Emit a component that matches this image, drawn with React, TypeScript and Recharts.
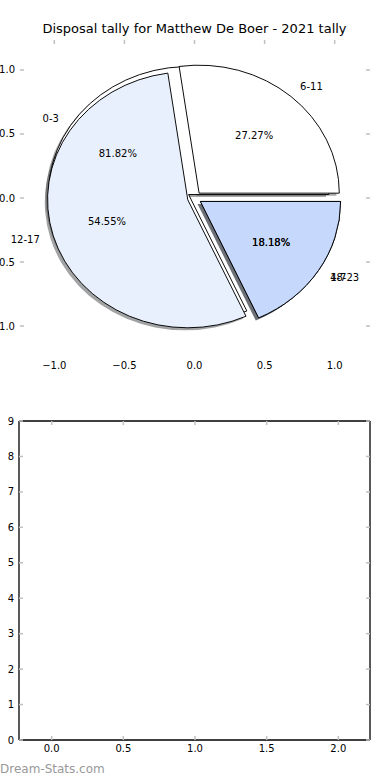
import { PieChart, Pie, Cell, ScatterChart, Scatter, XAxis, YAxis } from 'recharts'

const TITLE = 'Disposal tally for Matthew De Boer - 2021 tally'

// the source drew two pies on top of each other
const groupsA = ['0-3', '4-7']
const countsA = [9, 2]
const groupsB = ['6-11', '12-17', '18-23']
const countsB = [3, 6, 2]
const coloursA = ['#ffffff', '#c6d9fd']
const coloursB = ['#ffffff', '#e9f0fd', '#c6d9fd']

const pieTicks = [-1, -0.5, 0, 0.5, 1]
const emptyXTicks = [0, 0.5, 1, 1.5, 2]
const emptyYTicks = [0, 1, 2, 3, 4, 5, 6, 7, 8, 9]

const FONT = '"DejaVu Sans", sans-serif'
const CX = 194.5
const CY = 198
const RX = 140.2
const RY = 128
const EXPLODE = 0.05
const TICK = '#c0c0c0'
const RAD = Math.PI / 180

const dataA = groupsA.map((g, i) => ({ label: g, count: countsA[i] }))
const dataB = groupsB.map((g, i) => ({ label: g, count: countsB[i] }))

const fmt = (v: number) => v.toFixed(1).replace('-', '\u2212')

function midAngles(vals: number[]) {
  const total = vals.reduce((a, b) => a + b, 0)
  let acc = 0
  return vals.map((v) => {
    const m = ((acc + v / 2) / total) * 360
    acc += v
    return m
  })
}
const midA = midAngles(countsA)
const midB = midAngles(countsB)

// matplotlib explode, in px before the vertical squash
function shift(angle: number, extraX = 0, extraY = 0) {
  const dx = EXPLODE * RX * Math.cos(angle * RAD) + extraX
  const dy = -EXPLODE * RX * Math.sin(angle * RAD) + extraY
  return { transform: `translate(${dx}px, ${dy}px)` }
}

function shade(hex: string) {
  const n = parseInt(hex.slice(1), 16)
  const r = Math.round(((n >> 16) & 255) * 0.3)
  const g = Math.round(((n >> 8) & 255) * 0.3)
  const b = Math.round((n & 255) * 0.3)
  return `rgb(${r},${g},${b})`
}

const nameLabel = (p: any) => {
  const m = p.midAngle * RAD
  const r = 1.1 + EXPLODE
  const x = (p.cx ?? CX) + r * RX * Math.cos(m)
  const y = (p.cy ?? CY) - r * RY * Math.sin(m)
  return (
    <text x={x} y={y} textAnchor={Math.cos(m) > 0 ? 'start' : 'end'} dominantBaseline="central"
      fontSize={10} fontFamily={FONT} fill="#000">
      {p.name}
    </text>
  )
}

const pctLabel = (p: any) => {
  const m = p.midAngle * RAD
  const r = 0.6 + EXPLODE
  const x = (p.cx ?? CX) + r * RX * Math.cos(m)
  const y = (p.cy ?? CY) - r * RY * Math.sin(m)
  return (
    <text x={x} y={y} textAnchor="middle" dominantBaseline="central"
      fontSize={10} fontFamily={FONT} fill="#000">
      {(p.percent * 100).toFixed(2)}%
    </text>
  )
}

const pieBase = {
  dataKey: 'count',
  nameKey: 'label',
  cx: CX,
  cy: CY,
  outerRadius: RX,
  startAngle: 0,
  endAngle: 360,
  isAnimationActive: false,
}

// tick renderers: label outside, gray mark inside the frame
const leftTick = (format: (v: number) => string) => (p: any) => (
  <g>
    <line x1={p.x} x2={p.x + 4} y1={p.y} y2={p.y} stroke={TICK} strokeWidth={1.5} />
    <text x={p.x - 5} y={p.y} textAnchor="end" dominantBaseline="central" fontSize={10} fontFamily={FONT} fill="#000">
      {format(p.payload.value)}
    </text>
  </g>
)
const rightTick = (p: any) => <line x1={p.x - 4} x2={p.x} y1={p.y} y2={p.y} stroke={TICK} strokeWidth={1.5} />
const topTick = (p: any) => <line x1={p.x} x2={p.x} y1={p.y} y2={p.y + 4} stroke={TICK} strokeWidth={1.5} />

export default function App() {
  return (
    <div style={{ position: 'absolute', left: 0, top: 0, width: 390, height: 780, background: '#fff', fontFamily: FONT }}>
      <div style={{ position: 'absolute', left: 0, top: 21, width: 389, textAlign: 'center', fontSize: 13, color: '#000' }}>
        {TITLE}
      </div>

      {/* axes around the pie */}
      <div style={{ position: 'absolute', left: 0, top: 0 }}>
        <ScatterChart width={390} height={390} margin={{ top: 39, right: 19, bottom: 33, left: 19 }}>
          <XAxis type="number" dataKey="x" domain={[-1.245, 1.252]} ticks={pieTicks} allowDataOverflow
            height={1} axisLine={false} tickLine={false} tickSize={0} tickMargin={0} interval={0}
            tick={(p: any) => (
              <text x={p.x} y={p.y + 9} textAnchor="middle" dominantBaseline="central" fontSize={10} fontFamily={FONT} fill="#000">
                {fmt(p.payload.value)}
              </text>
            )} />
          <XAxis xAxisId="t" orientation="top" type="number" dataKey="x" domain={[-1.245, 1.252]} ticks={pieTicks} allowDataOverflow
            height={1} axisLine={false} tickLine={false} tickSize={0} tickMargin={0} interval={0} tick={topTick} />
          <YAxis type="number" dataKey="y" domain={[-1.234, 1.234]} ticks={pieTicks} allowDataOverflow
            width={1} axisLine={false} tickLine={false} tickSize={0} tickMargin={0} interval={0} tick={leftTick(fmt)} />
          <YAxis yAxisId="r" orientation="right" type="number" dataKey="y" domain={[-1.234, 1.234]} ticks={pieTicks} allowDataOverflow
            width={1} axisLine={false} tickLine={false} tickSize={0} tickMargin={0} interval={0} tick={rightTick} />
          <Scatter data={[]} isAnimationActive={false} />
          <Scatter xAxisId="t" yAxisId="r" data={[]} isAnimationActive={false} />
        </ScatterChart>
      </div>

      {/* wedges, squashed into the ellipse of the source */}
      <div style={{ position: 'absolute', left: 0, top: 0, width: 390, height: 390, transform: `scaleY(${RY / RX})`, transformOrigin: `${CX}px ${CY}px` }}>
        <PieChart width={390} height={390} margin={{ top: 0, right: 0, bottom: 0, left: 0 }}>
          <Pie {...pieBase} data={dataA} stroke="none" label={false} labelLine={false}>
            {dataA.map((d, i) => (
              <Cell key={d.label} fill={shade(coloursA[i])} fillOpacity={0.5} style={shift(midA[i], -2.8, 2.8)} />
            ))}
          </Pie>
          <Pie {...pieBase} data={dataB} stroke="none" label={false} labelLine={false}>
            {dataB.map((d, i) => (
              <Cell key={d.label} fill={shade(coloursB[i])} fillOpacity={0.5} style={shift(midB[i], -2.8, 2.8)} />
            ))}
          </Pie>
          <Pie {...pieBase} data={dataA} stroke="#000" strokeWidth={1} label={false} labelLine={false}>
            {dataA.map((d, i) => (
              <Cell key={d.label} fill={coloursA[i]} style={shift(midA[i])} />
            ))}
          </Pie>
          <Pie {...pieBase} data={dataB} stroke="#000" strokeWidth={1} label={false} labelLine={false}>
            {dataB.map((d, i) => (
              <Cell key={d.label} fill={coloursB[i]} style={shift(midB[i])} />
            ))}
          </Pie>
        </PieChart>
      </div>

      {/* labels, drawn unsquashed */}
      <div style={{ position: 'absolute', left: 0, top: 0 }}>
        <PieChart width={390} height={390} margin={{ top: 0, right: 0, bottom: 0, left: 0 }}>
          <Pie {...pieBase} data={dataA} fill="none" stroke="none" label={nameLabel} labelLine={false} />
          <Pie {...pieBase} data={dataB} fill="none" stroke="none" label={nameLabel} labelLine={false} />
          <Pie {...pieBase} data={dataA} fill="none" stroke="none" label={pctLabel} labelLine={false} />
          <Pie {...pieBase} data={dataB} fill="none" stroke="none" label={pctLabel} labelLine={false} />
        </PieChart>
      </div>

      {/* the empty second panel */}
      <div style={{ position: 'absolute', left: 0, top: 390 }}>
        <ScatterChart width={390} height={390} margin={{ top: 30, right: 19, bottom: 39, left: 18 }}>
          <XAxis type="number" dataKey="x" domain={[-0.228, 2.221]} ticks={emptyXTicks} allowDataOverflow
            height={1} axisLine={{ stroke: '#000', strokeWidth: 1.3 }} tickLine={false} tickSize={0} tickMargin={0} interval={0}
            tick={(p: any) => (
              <g>
                <line x1={p.x} x2={p.x} y1={p.y - 4} y2={p.y} stroke={TICK} strokeWidth={1.5} />
                <text x={p.x} y={p.y + 8} textAnchor="middle" dominantBaseline="central" fontSize={10} fontFamily={FONT} fill="#000">
                  {p.payload.value.toFixed(1)}
                </text>
              </g>
            )} />
          <XAxis xAxisId="t" orientation="top" type="number" dataKey="x" domain={[-0.228, 2.221]} ticks={emptyXTicks} allowDataOverflow
            height={1} axisLine={{ stroke: '#000', strokeWidth: 1.3 }} tickLine={false} tickSize={0} tickMargin={0} interval={0} tick={topTick} />
          <YAxis type="number" dataKey="y" domain={[0, 9]} ticks={emptyYTicks} allowDataOverflow
            width={1} axisLine={{ stroke: '#000', strokeWidth: 1.3 }} tickLine={false} tickSize={0} tickMargin={0} interval={0}
            tick={leftTick((v) => String(v))} />
          <YAxis yAxisId="r" orientation="right" type="number" dataKey="y" domain={[0, 9]} ticks={emptyYTicks} allowDataOverflow
            width={1} axisLine={{ stroke: '#000', strokeWidth: 1.3 }} tickLine={false} tickSize={0} tickMargin={0} interval={0} tick={rightTick} />
          <Scatter data={[]} isAnimationActive={false} />
          <Scatter xAxisId="t" yAxisId="r" data={[]} isAnimationActive={false} />
        </ScatterChart>
      </div>

      <div style={{ position: 'absolute', left: 0, top: 762, fontSize: 12, color: '#999' }}>Dream-Stats.com</div>
    </div>
  )
}
